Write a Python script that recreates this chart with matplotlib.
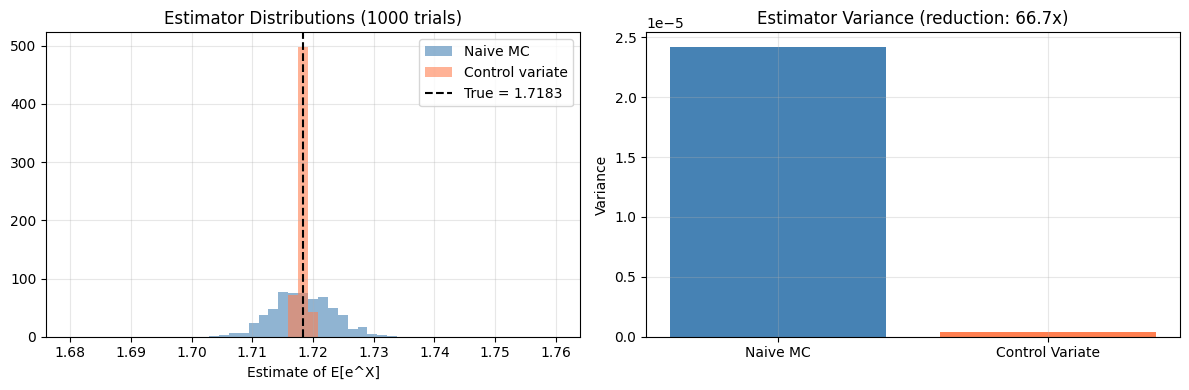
import numpy as np
import matplotlib
matplotlib.use('Agg')
from matplotlib import pyplot as plt

# histogram bins (density=True) over [1.68, 1.76]
bin_edges = np.linspace(1.68, 1.76, 50)
true_value = 1.7183

# naive MC density per bin, starting at bin index 14
naive_start = 14
naive_density = [1.7, 3.4, 6.2, 6.2, 24, 37, 48, 77, 75, 75, 64, 69, 50, 38, 14, 17, 5, 3.5, 1.7]

# control variate density per bin, starting at bin index 22
cv_start = 22
cv_density = [71, 498, 43]

methods = ['Naive MC', 'Control Variate']
variances = [2.42e-5, 3.63e-7]
reduction = 66.7

centers = (bin_edges[:-1] + bin_edges[1:]) / 2

fig, (ax1, ax2) = plt.subplots(1, 2, figsize=(12, 4))

# left panel: distributions
ax1.hist(centers[naive_start:naive_start + len(naive_density)], bins=bin_edges,
         weights=naive_density, color='steelblue', alpha=0.6, label='Naive MC')
ax1.hist(centers[cv_start:cv_start + len(cv_density)], bins=bin_edges,
         weights=cv_density, color='coral', alpha=0.6, label='Control variate')
ax1.axvline(true_value, color='black', linestyle='--', linewidth=1.5, label=f'True = {true_value:.4f}')
ax1.set_xlabel('Estimate of E[e^X]')
ax1.set_title('Estimator Distributions (1000 trials)')
ax1.legend()
ax1.grid(True, alpha=0.3)

# right panel: variances
ax2.bar(methods, variances, color=['steelblue', 'coral'])
ax2.set_ylabel('Variance')
ax2.set_title(f'Estimator Variance (reduction: {reduction:.1f}x)')
ax2.grid(True, alpha=0.3)

plt.tight_layout()
plt.savefig('out.png', dpi=100, bbox_inches='tight')
